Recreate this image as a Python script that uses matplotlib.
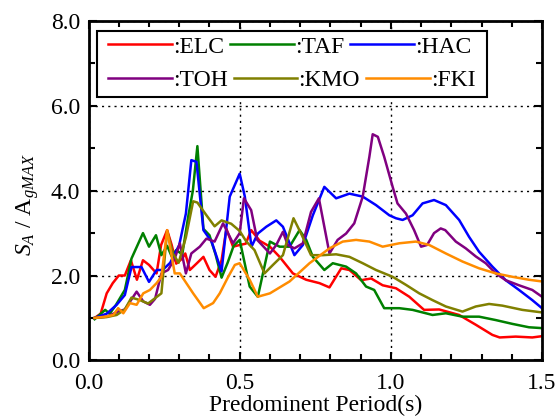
import matplotlib
matplotlib.use("Agg")
import matplotlib.pyplot as plt
from matplotlib.ticker import MultipleLocator
from matplotlib.patches import Rectangle

plt.rcParams['font.family'] = ['Liberation Serif', 'DejaVu Serif']
plt.rcParams['mathtext.fontset'] = 'custom'
plt.rcParams['mathtext.rm'] = 'Liberation Serif'
plt.rcParams['mathtext.it'] = 'Liberation Serif:italic'

# ---- data (period s, normalized spectral acceleration) ----
elc_t = [0.02, 0.04, 0.06, 0.08, 0.10, 0.12, 0.14, 0.16, 0.18, 0.20, 0.225, 0.24, 0.26, 0.275, 0.29,
         0.31, 0.32, 0.335, 0.357, 0.38, 0.40, 0.42, 0.44, 0.456, 0.478, 0.50, 0.52, 0.538, 0.566,
         0.60, 0.632, 0.676, 0.72, 0.764, 0.797, 0.836, 0.863, 0.902, 0.935, 0.973, 1.017, 1.061,
         1.11, 1.16, 1.226, 1.281, 1.336, 1.36, 1.413, 1.468, 1.50]
elc_v = [1.0, 1.1, 1.58, 1.82, 2.0, 2.0, 2.36, 1.9, 2.36, 2.25, 2.05, 2.72, 3.07, 2.72, 2.28,
         2.4, 2.52, 2.13, 2.28, 2.44, 2.13, 1.97, 2.36, 3.1, 2.68, 2.72, 2.75, 3.07, 2.82,
         2.68, 2.44, 2.05, 1.9, 1.82, 1.72, 2.17, 2.13, 1.89, 1.93, 1.77, 1.7, 1.5,
         1.19, 1.2, 1.07, 0.84, 0.6, 0.54, 0.56, 0.54, 0.57]

taf_t = [0.02, 0.055, 0.07, 0.09, 0.12, 0.142, 0.18, 0.20, 0.223, 0.241, 0.26, 0.275, 0.29, 0.31,
         0.33, 0.345, 0.36, 0.38, 0.40, 0.42, 0.44, 0.46, 0.48, 0.50, 0.533, 0.56, 0.60, 0.632,
         0.665, 0.698, 0.72, 0.742, 0.78, 0.808, 0.852, 0.885, 0.918, 0.945, 0.978, 1.028, 1.072,
         1.138, 1.182, 1.237, 1.292, 1.347, 1.402, 1.457, 1.50]
taf_v = [0.97, 1.19, 1.1, 1.3, 1.66, 2.4, 3.0, 2.68, 2.95, 2.48, 2.7, 2.45, 2.6, 2.5,
         3.4, 4.0, 5.05, 3.1, 2.95, 2.5, 1.95, 2.3, 2.7, 2.84, 1.74, 1.5, 2.8, 2.68,
         2.68, 3.07, 2.84, 2.44, 2.13, 2.29, 2.21, 2.05, 1.74, 1.66, 1.23, 1.23, 1.19,
         1.07, 1.11, 1.03, 1.03, 0.95, 0.86, 0.78, 0.76]

hac_t = [0.02, 0.06, 0.093, 0.12, 0.142, 0.175, 0.20, 0.225, 0.245, 0.27, 0.30, 0.322, 0.34, 0.357,
         0.38, 0.407, 0.44, 0.467, 0.50, 0.517, 0.539, 0.56, 0.588, 0.621, 0.643, 0.681, 0.709,
         0.742, 0.78, 0.819, 0.863, 0.907, 0.951, 0.995, 1.017, 1.039, 1.072, 1.105, 1.143, 1.182,
         1.226, 1.259, 1.292, 1.336, 1.38, 1.424, 1.468, 1.50]
hac_v = [1.0, 1.1, 1.31, 1.54, 2.2, 2.2, 1.85, 2.13, 2.13, 2.3, 2.72, 3.46, 4.72, 4.68,
         3.07, 2.8, 2.1, 3.86, 4.4, 3.86, 2.68, 2.99, 3.15, 3.3, 3.15, 2.48, 2.72,
         3.42, 4.09, 3.82, 3.93, 3.86, 3.66, 3.42, 3.35, 3.31, 3.42, 3.7, 3.78, 3.66,
         3.31, 2.91, 2.56, 2.21, 1.89, 1.66, 1.42, 1.23]

toh_t = [0.02, 0.06, 0.098, 0.12, 0.159, 0.181, 0.203, 0.22, 0.241, 0.263, 0.285, 0.302, 0.322,
         0.34, 0.368, 0.39, 0.417, 0.445, 0.478, 0.50, 0.514, 0.538, 0.558, 0.60, 0.621, 0.643,
         0.659, 0.681, 0.709, 0.736, 0.762, 0.78, 0.797, 0.824, 0.852, 0.879, 0.907, 0.929, 0.94,
         0.957, 0.978, 1.006, 1.022, 1.05, 1.077, 1.10, 1.12, 1.143, 1.165, 1.18, 1.215, 1.248,
         1.281, 1.314, 1.347, 1.38, 1.424, 1.468, 1.50]
toh_v = [1.0, 1.03, 1.15, 1.2, 1.62, 1.39, 1.31, 1.45, 2.05, 2.13, 2.4, 2.76, 2.05,
         2.52, 2.68, 2.87, 2.8, 3.23, 2.76, 3.0, 3.82, 3.54, 2.84, 2.52, 2.72, 3.03,
         2.72, 2.64, 2.76, 3.5, 3.82, 3.15, 2.52, 2.84, 2.99, 3.23, 3.86, 4.8, 5.33,
         5.27, 4.8, 4.09, 3.7, 3.46, 3.07, 2.68, 2.72, 3.0, 3.11, 3.07, 2.8, 2.64,
         2.45, 2.29, 2.05, 1.89, 1.77, 1.66, 1.5]

kmo_t = [0.02, 0.06, 0.093, 0.12, 0.142, 0.17, 0.197, 0.241, 0.26, 0.279, 0.298, 0.322, 0.346,
         0.36, 0.39, 0.417, 0.44, 0.472, 0.50, 0.522, 0.549, 0.582, 0.61, 0.643, 0.678, 0.703,
         0.736, 0.775, 0.819, 0.863, 0.907, 0.951, 1.006, 1.05, 1.094, 1.138, 1.182, 1.237, 1.281,
         1.325, 1.369, 1.435, 1.50]
kmo_v = [1.0, 1.02, 1.07, 1.2, 1.48, 1.42, 1.34, 1.58, 3.05, 2.52, 2.3, 2.9, 3.75,
         3.72, 3.42, 3.16, 3.3, 3.22, 3.05, 2.8, 2.6, 2.05, 2.25, 2.48, 3.35, 2.99,
         2.48, 2.48, 2.5, 2.44, 2.29, 2.13, 1.97, 1.78, 1.58, 1.42, 1.27, 1.15, 1.27,
         1.33, 1.29, 1.19, 1.13]

fki_t = [0.02, 0.055, 0.082, 0.098, 0.115, 0.137, 0.159, 0.181, 0.203, 0.225, 0.241, 0.26, 0.285,
         0.302, 0.346, 0.381, 0.412, 0.434, 0.462, 0.484, 0.50, 0.533, 0.56, 0.60, 0.665, 0.731,
         0.797, 0.841, 0.885, 0.929, 0.973, 1.028, 1.083, 1.127, 1.182, 1.237, 1.292, 1.347, 1.402,
         1.457, 1.50]
fki_v = [1.0, 1.03, 1.07, 1.23, 1.11, 1.35, 1.31, 1.58, 1.66, 1.82, 1.97, 3.07, 2.05,
         2.05, 1.58, 1.23, 1.35, 1.58, 1.97, 2.25, 2.29, 1.9, 1.5, 1.58, 1.86, 2.29,
         2.64, 2.8, 2.84, 2.8, 2.68, 2.76, 2.8, 2.72, 2.52, 2.33, 2.17, 2.05, 1.97,
         1.9, 1.86]

x_ticks = [0.0, 0.5, 1.0, 1.5]
y_ticks = [0.0, 2.0, 4.0, 6.0, 8.0]
row1_labels = [':ELC', ':TAF', ':HAC']
row2_labels = [':TOH', ':KMO', ':FKI']

fig = plt.figure(figsize=(5.57, 4.2), dpi=100)
ax = fig.add_axes([0.159, 0.142, 0.814, 0.808])

series = [
    (elc_t, elc_v, 'red', ':ELC'),
    (taf_t, taf_v, 'green', ':TAF'),
    (hac_t, hac_v, 'blue', ':HAC'),
    (toh_t, toh_v, 'purple', ':TOH'),
    (kmo_t, kmo_v, 'olive', ':KMO'),
    (fki_t, fki_v, 'darkorange', ':FKI'),
]
handles = {}
for t, v, c, lab in series:
    ln, = ax.plot(t, v, color=c, lw=1.8, label=lab)
    handles[lab] = ln

ax.set_xlim(0, 1.5)
ax.set_ylim(0, 8)
ax.set_xticks(x_ticks)
ax.set_xticklabels([f"{v:.1f}" for v in x_ticks])
ax.set_yticks(y_ticks)
ax.set_yticklabels([f"{v:.1f}" for v in y_ticks])
ax.xaxis.set_minor_locator(MultipleLocator(0.1))
ax.yaxis.set_minor_locator(MultipleLocator(1.0))
ax.tick_params(which='both', direction='in', top=True, right=True, labelsize=17, width=1.5)
ax.tick_params(which='major', length=6)
ax.tick_params(which='minor', length=4)
ax.tick_params(axis='x', pad=9)
ax.tick_params(axis='y', pad=6)
for s in ax.spines.values():
    s.set_linewidth(2)
ax.grid(True, which='major', color='black', linestyle=(0, (1.5, 3)), linewidth=1)

ax.set_xlabel('Predominent Period(s)', fontsize=17, labelpad=1)
ax.set_ylabel('$S_A$ / A$_{gMAX}$', fontsize=17)
ax.yaxis.set_label_coords(-0.105, 0.46)

# legend: white box with two independent rows
box = Rectangle((0.0187, 0.777), 0.860, 0.194, transform=ax.transAxes,
                facecolor='white', edgecolor='black', linewidth=1.5, zorder=4.5)
ax.add_patch(box)
common = dict(ncol=3, loc='center left', frameon=False, fontsize=17,
              handlelength=2.7, handletextpad=0.05, columnspacing=0.25,
              borderpad=0.0, borderaxespad=0.0)
leg1 = ax.legend([handles[k] for k in row1_labels], row1_labels,
                 bbox_to_anchor=(0.043, 0.924), **common)
leg1.set_zorder(5)
ax.add_artist(leg1)
leg2 = ax.legend([handles[k] for k in row2_labels], row2_labels,
                 bbox_to_anchor=(0.043, 0.824), **common)
leg2.set_zorder(5)
for lg in (leg1, leg2):
    for l in lg.get_lines():
        l.set_linewidth(1.8)

fig.savefig('out.png', dpi=100)
